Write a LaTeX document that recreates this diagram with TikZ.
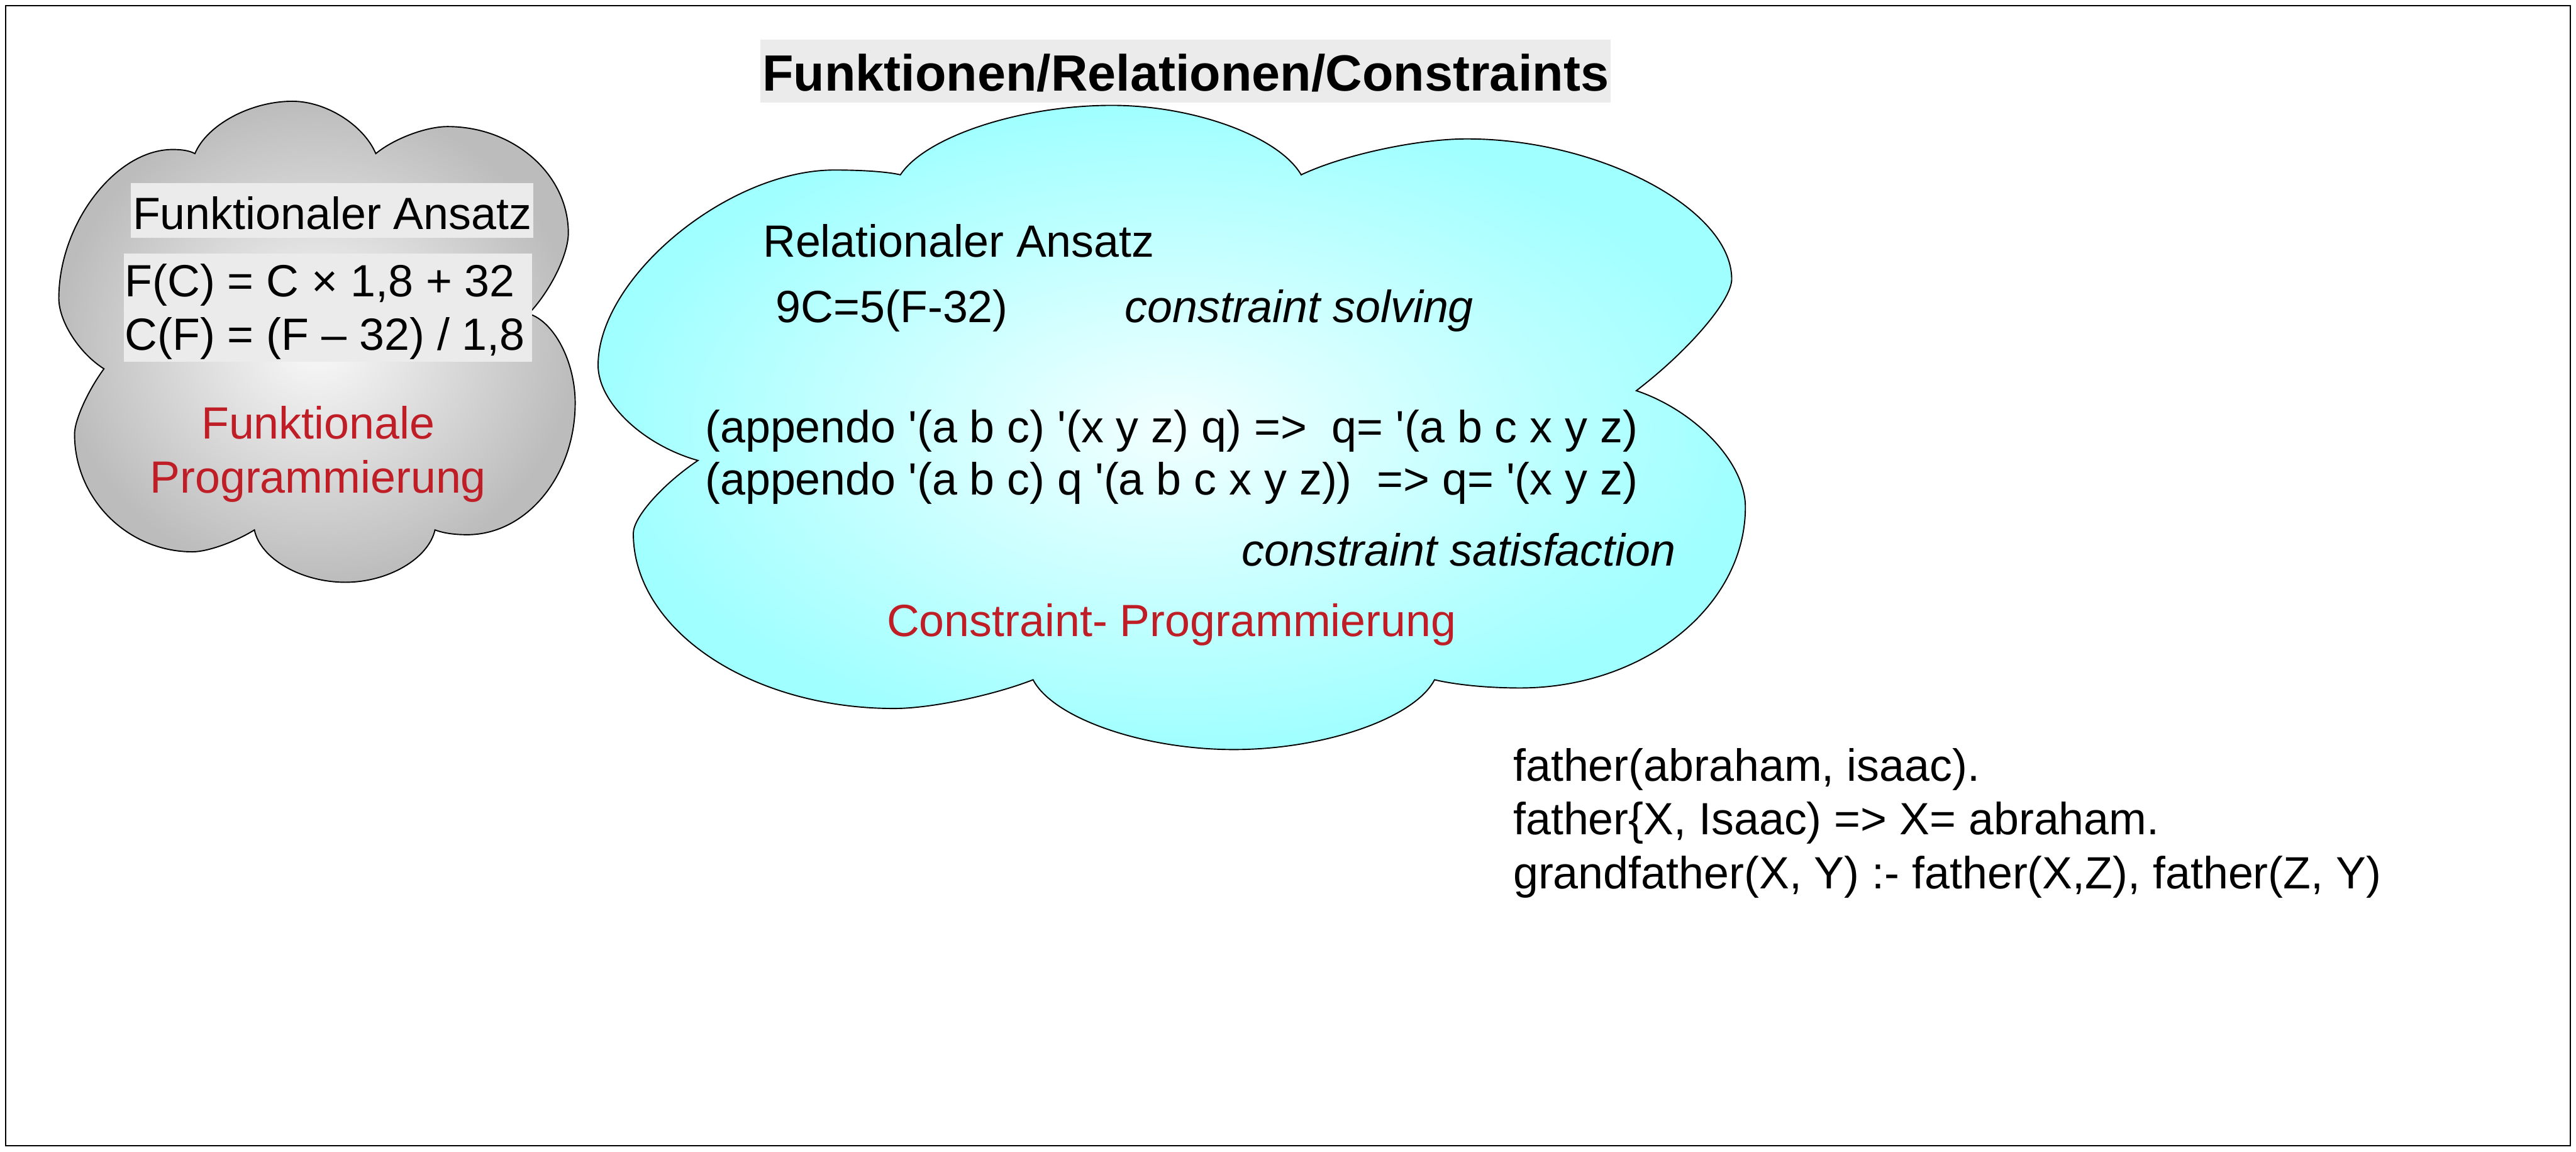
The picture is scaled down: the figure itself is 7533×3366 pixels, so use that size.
\documentclass[tikz,border=0pt]{standalone}
\usepackage{fontspec}
\setmainfont{Liberation Sans}
\definecolor{boxgrey}{RGB}{235,235,235}
\definecolor{redtxt}{RGB}{192,30,38}
\definecolor{cyanout}{RGB}{160,255,255}
\definecolor{cyanin}{RGB}{242,255,255}
\definecolor{greyout}{RGB}{188,188,188}
\definecolor{greyin}{RGB}{250,250,250}
\newcommand{\sq}{\textquotesingle}
\begin{document}
\begin{tikzpicture}[x=1pt,y=-1pt,
  txt/.style={font=\fontsize{132}{157}\selectfont, inner sep=0pt, anchor=base west},
  itxt/.style={txt, font=\fontsize{132}{157}\selectfont\itshape},
  redlabel/.style={txt, text=redtxt},
  cloudline/.style={line width=3.5pt, draw=black, line join=miter}]
\useasboundingbox (0,0) rectangle (7533,3366);
\draw[line width=4pt] (16,16) rectangle (7516,3349);

% grey cloud
\shade[cloudline, inner color=greyin, outer color=greyout]
  (304,1078) .. controls (231,1032) and (172,939) .. (172,872)
  .. controls (172,654) and (338,437) .. (505,437)
  .. controls (535,437) and (555,441) .. (570,449)
  .. controls (605,365) and (733,296) .. (855,296)
  .. controls (953,296) and (1063,365) .. (1099,449)
  .. controls (1151,406) and (1245,370) .. (1309,370)
  .. controls (1503,370) and (1662,510) .. (1662,681)
  .. controls (1662,744) and (1610,850) .. (1546,917)
  .. controls (1621,940) and (1682,1058) .. (1682,1178)
  .. controls (1682,1390) and (1540,1563) .. (1366,1563)
  .. controls (1320,1563) and (1290,1556) .. (1272,1549)
  .. controls (1253,1633) and (1135,1702) .. (1010,1702)
  .. controls (881,1702) and (761,1633) .. (744,1549)
  .. controls (688,1584) and (607,1613) .. (563,1613)
  .. controls (373,1613) and (218,1458) .. (218,1269)
  .. controls (218,1228) and (257,1142) .. (304,1078)
  -- cycle;

% cyan cloud
\shade[cloudline, inner color=cyanin, outer color=cyanout]
  (2041,1346) .. controls (1880,1301) and (1749,1176) .. (1749,1068)
  .. controls (1749,811) and (2129,497) .. (2440,497)
  .. controls (2530,497) and (2600,503) .. (2633,511)
  .. controls (2707,399) and (2985,308) .. (3251,308)
  .. controls (3491,308) and (3740,399) .. (3805,511)
  .. controls (3927,453) and (4145,406) .. (4289,406)
  .. controls (4677,406) and (5064,611) .. (5064,816)
  .. controls (5064,878) and (4938,1025) .. (4785,1142)
  .. controls (4960,1201) and (5104,1354) .. (5104,1482)
  .. controls (5104,1773) and (4807,2011) .. (4445,2011)
  .. controls (4340,2011) and (4250,2000) .. (4195,1987)
  .. controls (4137,2099) and (3873,2191) .. (3608,2191)
  .. controls (3343,2191) and (3079,2099) .. (3021,1987)
  .. controls (2903,2033) and (2721,2071) .. (2615,2071)
  .. controls (2195,2071) and (1852,1841) .. (1852,1559)
  .. controls (1852,1512) and (1937,1416) .. (2041,1346)
  -- cycle;

% title
\node (title) [anchor=base west, fill=boxgrey, inner xsep=5pt, inner ysep=0pt,
  text height=149pt, text depth=34pt,
  font=\fontsize{149}{170}\selectfont\bfseries] at (2224,265) {Funktionen/Relationen/Constraints};

% functional cloud texts
\node (fa) [txt, fill=boxgrey, inner xsep=5pt, inner ysep=0pt, text height=135pt, text depth=26pt]
  at (383,670) {Funktionaler Ansatz};
\node (eqbg) [anchor=north west, fill=boxgrey, inner sep=0pt, minimum width=1194pt, minimum height=317pt] at (362,741) {};
\node (eq1) [txt] at (365,867) {F(C) = C × 1,8 + 32};
\node (eq2) [txt] at (365,1023) {C(F) = (F – 32) / 1,8};
\node (fp1) [redlabel, anchor=base] at (930,1283) {Funktionale};
\node (fp2) [redlabel, anchor=base] at (930,1441) {Programmierung};

% relational cloud texts
\node (ra) [txt] at (2231,752) {Relationaler Ansatz};
\node (rel) [txt] at (2269,942) {9C=5(F-32)};
\node (cs) [itxt] at (3289,942) {constraint solving};
\node (ap1) [txt] at (2062,1293) {(appendo \sq(a b c) \sq(x y z) q) =>\ \ q= \sq(a b c x y z)};
\node (ap2) [txt] at (2062,1447) {(appendo \sq(a b c) q \sq(a b c x y z))\ \ => q= \sq(x y z)};
\node (csat) [itxt] at (3631,1655) {constraint satisfaction};
\node (cp) [redlabel] at (2593,1861) {Constraint- Programmierung};

% prolog texts
\node (pl1) [txt] at (4425,2283) {father(abraham, isaac).};
\node (pl2) [txt] at (4425,2440) {father\{X, Isaac) => X= abraham.};
\node (pl3) [txt] at (4425,2597) {grandfather(X, Y) :- father(X,Z), father(Z, Y)};
\end{tikzpicture}
\end{document}
